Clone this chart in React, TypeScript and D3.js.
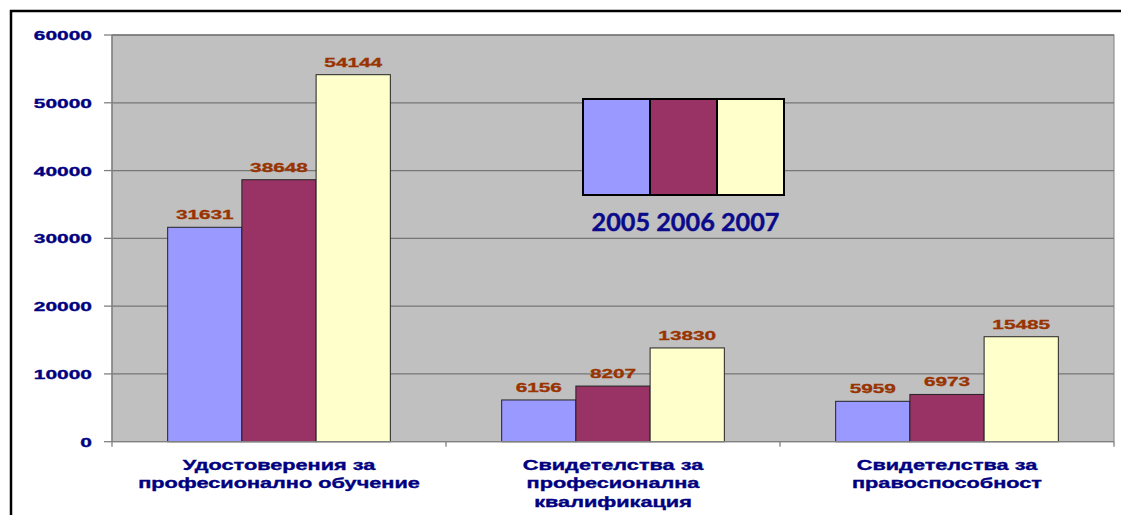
import React from "react";
import * as d3 from "d3";

const categories: string[][] = [
  ["Удостоверения за", "професионално обучение"],
  ["Свидетелства за", "професионална", "квалификация"],
  ["Свидетелства за", "правоспособност"],
];
const years = ["2005", "2006", "2007"];
const values2005 = [31631, 6156, 5959];
const values2006 = [38648, 8207, 6973];
const values2007 = [54144, 13830, 15485];
const yTicks = [0, 10000, 20000, 30000, 40000, 50000, 60000];
const colors = ["#9999FF", "#993366", "#FFFFCC"];

const W = 1121;
const H = 515;
const plot = { left: 112, right: 1114, top: 35, bottom: 441.7 };
const NAVY = "#000080";
const LABEL = "#993300";
const FONT = "'Liberation Sans', Arial, sans-serif";

export default function App() {
  const series = [values2005, values2006, values2007];
  const x0 = d3
    .scaleBand<number>()
    .domain(d3.range(categories.length))
    .range([plot.left, plot.right])
    .paddingInner(0)
    .paddingOuter(0);
  const groupW = x0.bandwidth();
  const barW = groupW / (3 + 1.5);
  const x1 = d3
    .scaleBand<number>()
    .domain(d3.range(years.length))
    .range([0, barW * 3]);
  const y = d3.scaleLinear().domain([0, 60000]).range([plot.bottom, plot.top]);

  const legend = { x: 583, y: 99, w: 201, h: 96 };
  const lx = d3.scaleBand<number>().domain(d3.range(3)).range([legend.x, legend.x + legend.w]);

  return (
    <svg
      width={W}
      height={H}
      style={{ position: "absolute", left: 0, top: 0, background: "#fff" }}
    >
      <rect x={0} y={0} width={W} height={H} fill="#fff" />
      {/* outer frame */}
      <rect x={11} y={11} width={W + 20} height={H + 20} fill="none" stroke="#000" strokeWidth={2.5} />
      {/* plot background */}
      <rect
        x={plot.left}
        y={plot.top}
        width={plot.right - plot.left}
        height={plot.bottom - plot.top}
        fill="#C0C0C0"
        stroke="#808080"
        strokeWidth={1}
      />
      {/* gridlines */}
      {yTicks.slice(1).map((t) => (
        <line key={"g" + t} x1={plot.left} x2={plot.right} y1={y(t)} y2={y(t)} stroke="#767676" strokeWidth={1.3} />
      ))}
      {/* y axis */}
      <line x1={plot.left} x2={plot.left} y1={plot.top} y2={plot.bottom} stroke="#808080" strokeWidth={1.3} />
      {yTicks.map((t) => (
        <g key={"t" + t}>
          <line x1={104} x2={plot.left} y1={y(t)} y2={y(t)} stroke="#808080" strokeWidth={1.3} />
          <text
            transform={`translate(92,${y(t) + 5}) scale(1.55,1)`}
            textAnchor="end"
            fontFamily={FONT}
            fontWeight="bold"
            fontSize={13.5}
            fill={NAVY}
            stroke={NAVY}
            strokeWidth={0.35}
          >
            {t}
          </text>
        </g>
      ))}
      {/* bars */}
      {series.map((vals, si) =>
        vals.map((v, ci) => {
          const bx = (x0(ci) as number) + barW * 0.75 + (x1(si) as number);
          return (
            <g key={`b${si}-${ci}`}>
              <rect
                x={bx}
                y={y(v)}
                width={x1.bandwidth()}
                height={plot.bottom - y(v)}
                fill={colors[si]}
                stroke="#222"
                strokeWidth={1}
              />
              <text
                transform={`translate(${bx + x1.bandwidth() / 2},${y(v) - 8}) scale(1.6,1)`}
                textAnchor="middle"
                fontFamily={FONT}
                fontWeight="bold"
                fontSize={13}
                fill={LABEL}
                stroke={LABEL}
                strokeWidth={0.3}
              >
                {v}
              </text>
            </g>
          );
        })
      )}
      {/* x axis */}
      <line x1={plot.left} x2={plot.right} y1={plot.bottom} y2={plot.bottom} stroke="#808080" strokeWidth={1.3} />
      {d3.range(categories.length + 1).map((i) => {
        const tx = plot.left + i * groupW;
        return <line key={"xt" + i} x1={tx} x2={tx} y1={plot.bottom} y2={plot.bottom + 5} stroke="#808080" strokeWidth={1.3} />;
      })}
      {categories.map((lines, ci) => (
        <g key={"c" + ci}>
          {lines.map((ln, li) => (
            <text
              key={li}
              transform={`translate(${(x0(ci) as number) + groupW / 2},${469.5 + li * 18.5}) scale(1.55,1)`}
              textAnchor="middle"
              fontFamily={FONT}
              fontWeight="bold"
              fontSize={14}
              fill={NAVY}
              stroke={NAVY}
              strokeWidth={0.35}
            >
              {ln}
            </text>
          ))}
        </g>
      ))}
      {/* legend */}
      {years.map((yr, i) => (
        <rect
          key={"l" + yr}
          x={lx(i)}
          y={legend.y}
          width={lx.bandwidth()}
          height={legend.h}
          fill={colors[i]}
          stroke="#000"
          strokeWidth={2}
        />
      ))}
      <text
        x={legend.x + legend.w / 2 + 2}
        y={231}
        textAnchor="middle"
        fontFamily="Lato, 'Open Sans', sans-serif"
        fontWeight="bold"
        fontSize={25}
        fill="#0A0A8A"
        stroke="#0A0A8A"
        strokeWidth={0.4}
        textLength={188}
        lengthAdjust="spacingAndGlyphs"
      >
        {years.join(" ")}
      </text>
    </svg>
  );
}
